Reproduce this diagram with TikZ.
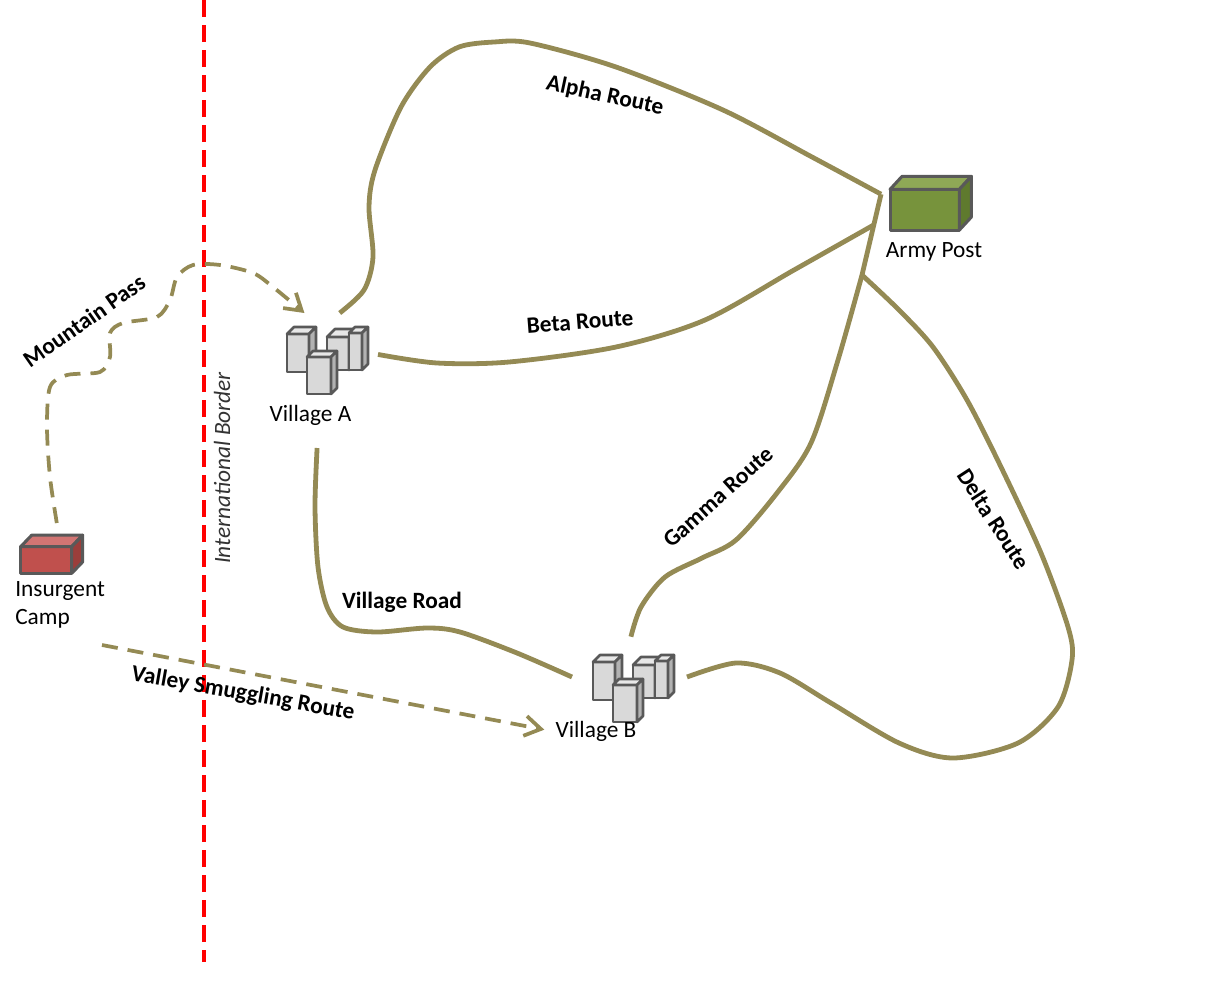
\documentclass[tikz,border=0pt]{standalone}
\usepackage{fontspec}
\setmainfont{Carlito}
\usetikzlibrary{arrows.meta, calc}

\definecolor{routeol}{HTML}{948A54}
\definecolor{edgegray}{HTML}{595959}
\definecolor{postgreen}{HTML}{77933C}
\definecolor{posttop}{HTML}{8FA856}
\definecolor{postside}{HTML}{5F7A2E}
\definecolor{campred}{HTML}{C0504D}
\definecolor{camptop}{HTML}{D27573}
\definecolor{campside}{HTML}{9B3E3B}

\begin{document}
\begin{tikzpicture}[x=0.75pt, y=-0.75pt,
    route/.style={routeol, line width=3.6pt},
    trail/.style={routeol, line width=2.8pt, dash pattern=on 12pt off 7.5pt, -{Straight Barb[length=12pt, width=15pt]}},
    zone/.style={inner sep=0pt, outer sep=0pt},
    crate/.style={draw=edgegray, line width=2.3pt, line join=round, inner sep=0pt, outer sep=0pt},
    bldg/.style={draw=edgegray, line width=2pt, line join=round},
    rlabel/.style={font=\bfseries\fontsize{17.5}{21}\selectfont},
    plabel/.style={font=\fontsize{17.5}{21}\selectfont}]

    \useasboundingbox (0,0) rectangle (1228,983);

    % international border
    \draw [red, line width=2.75pt, dash pattern=on 12.5pt off 6.25pt] (204,0) -- (204,962);
    \node [rotate=90, text=black!80, font=\itshape\fontsize{17.5}{21}\selectfont] (borderlbl) at (222,468) {International Border};

    % places
    \node [zone, minimum width=73.5pt, minimum height=101.25pt] (villA) at (329,380.5) {};
    \node [zone, minimum width=86.25pt, minimum height=60.5pt] (villB) at (629.5,677) {};
    \node [zone, minimum width=63pt, minimum height=91.5pt] (camp) at (60,584) {};
    \node [crate, fill=postgreen, minimum width=52pt, minimum height=30.5pt] (post) at (924.7,209.7) {};
    \node [crate, fill=campred, minimum width=38.25pt, minimum height=20pt] (campbox) at (46.2,560) {};

    \filldraw [crate, fill=posttop] (post.north west) -- ++(12,-13) -- ([shift={(12,-13)}]post.north east) -- (post.north east) -- cycle;
    \filldraw [crate, fill=postside] (post.north east) -- ++(12,-13) -- ([shift={(12,-13)}]post.south east) -- (post.south east) -- cycle;
    \filldraw [crate, fill=camptop] (campbox.north west) -- ++(11,-11.5) -- ([shift={(11,-11.5)}]campbox.north east) -- (campbox.north east) -- cycle;
    \filldraw [crate, fill=campside] (campbox.north east) -- ++(11,-11.5) -- ([shift={(11,-11.5)}]campbox.south east) -- (campbox.south east) -- cycle;

    % buildings of the two villages
    \foreach \dx/\dy in {0/0, 306/328} {
      \begin{scope}[shift={(\dx,\dy)}]
        \foreach \bx/\by/\bw/\bh/\bd in {287/372/22/38/7, 327/370/22/33/8, 349/370/13/37/6, 307/394/24/37/6} {
          \filldraw [bldg, fill=gray!30] (\bx,\by) rectangle ++(\bw,-\bh);
          \filldraw [bldg, fill=gray!18] (\bx,\by-\bh) -- ++(\bd,-\bd) -- ++(\bw,0) -- ++(-\bd,\bd) -- cycle;
          \filldraw [bldg, fill=gray!60] (\bx+\bw,\by) -- (\bx+\bw,\by-\bh) -- ++(\bd,-\bd) -- ++(0,\bh) -- cycle;
        }
      \end{scope}
    }

    \node [plabel, anchor=base] (villAlbl) at (310.5,421) {Village A};
    \node [plabel, anchor=base] (villBlbl) at (596,737) {Village B};
    \node [plabel, anchor=base] (postlbl) at (934,257) {Army Post};
    \node [plabel, anchor=north west, align=left, inner sep=0pt] (camplbl) at (15,581) {Insurgent\\Camp};

    % routes
    \coordinate (hub) at ([shift={(-9,-15.5)}]post.west);
    \coordinate (fork) at (862,275);
    \coordinate (gb) at ($(fork)!0.62!(hub)$);

    \draw [route] plot [smooth] coordinates {(villA.81) (364,290) (373,257) (369,207) (375,170) (401,107) (430,67) (459,47) (494,42) (530,43) (616,67) (723,110) (812,157) (hub)};
    \draw [route] plot [smooth] coordinates {(villA.28) (437,363) (509,362) (616,347) (705,320) (794,270) (gb)};
    \draw [route] plot [smooth] coordinates {(villB.88) (641,607) (665,577) (702,558) (736,540) (777,493) (811,443) (838,360) (fork)} -- (hub);
    \draw [route] plot [smooth] coordinates {(fork) (899,310) (933,347) (967,400) (1001,467) (1041,553) (1068,627) (1072,660) (1058,707) (1018,743) (953,758) (899,743) (831,703) (780,673) (736,663) (villB.east)};
    \draw [route] plot [smooth] coordinates {(villA.260) (315,507) (318,567) (327,607) (343,627) (377,632) (427,628) (460,632) (517,653) (villB.west)};

    \draw [trail] plot [smooth] coordinates {(camp.93) (50,477) (47,427) (50,387) (67,375) (100,372) (110,357) (110,333) (123,323) (157,317) (170,300) (177,277) (193,265) (220,265) (253,273) (273,287) (villA.110)};
    \draw [trail, shorten >=5pt] (camp.south east) -- (villBlbl.west);

    \node [rlabel, rotate=-12] (alphalbl) at (605,96) {Alpha Route};
    \node [rlabel, rotate=4.5] (betalbl) at (580,322) {Beta Route};
    \node [rlabel, rotate=42] (gammalbl) at (718,497) {Gamma Route};
    \node [rlabel, rotate=-57] (deltalbl) at (994,519) {Delta Route};
    \node [rlabel, anchor=base] (roadlbl) at (402,608) {Village Road};
    \node [rlabel, rotate=35] (passlbl) at (84,321) {Mountain Pass};
    \node [rlabel, rotate=-10] (valleylbl) at (243,694) {Valley Smuggling Route};
  \end{tikzpicture}
\end{document}
